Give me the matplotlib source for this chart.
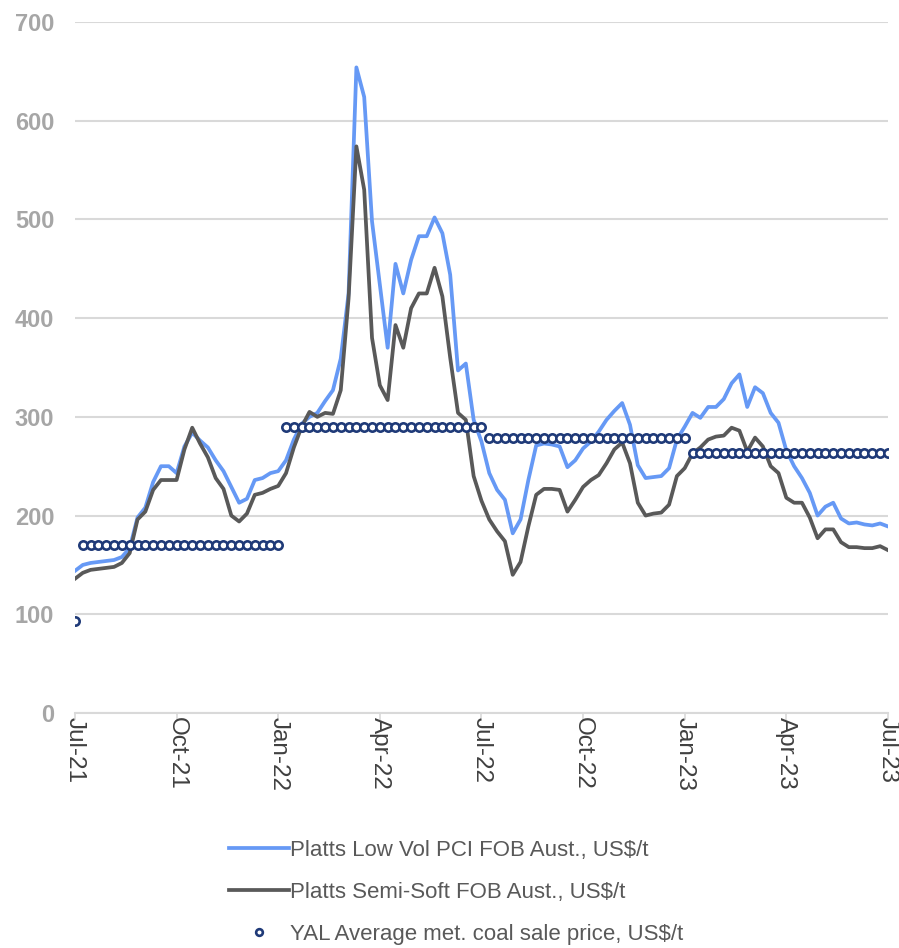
import matplotlib.pyplot as plt
import numpy as np

plt.rcParams['font.family'] = ['Liberation Sans', 'DejaVu Sans']

# weekly samples, Jul-21 .. Jul-23
low_vol_pci = [144, 150, 152, 153, 154, 155, 158, 167, 198, 208,
               234, 250, 250, 243, 270, 284, 276, 269, 256, 245,
               229, 213, 217, 236, 238, 243, 245, 256, 277, 293,
               300, 304, 316, 327, 359, 425, 654, 624, 498, 434,
               370, 455, 425, 459, 483, 483, 502, 486, 444, 347,
               354, 297, 275, 243, 226, 216, 182, 196, 236, 271,
               273, 272, 270, 249, 256, 268, 275, 285, 297, 306,
               314, 292, 251, 238, 239, 240, 248, 277, 290, 304,
               299, 310, 310, 318, 334, 343, 310, 330, 324, 304,
               294, 266, 250, 238, 223, 200, 209, 213, 197, 192,
               193, 191, 190, 192, 189]

semi_soft = [136, 142, 145, 146, 147, 148, 152, 162, 196, 204,
             226, 236, 236, 236, 267, 289, 273, 259, 238, 227,
             200, 194, 202, 221, 223, 227, 230, 243, 269, 290,
             305, 300, 304, 303, 327, 420, 574, 530, 380, 332,
             317, 393, 370, 410, 425, 425, 451, 422, 360, 304,
             297, 240, 215, 196, 184, 174, 140, 153, 189, 221,
             227, 227, 226, 204, 216, 229, 236, 241, 253, 267,
             274, 253, 213, 200, 202, 203, 211, 240, 248, 263,
             269, 277, 280, 281, 289, 286, 265, 279, 270, 250,
             243, 218, 213, 213, 198, 177, 186, 186, 173, 168,
             168, 167, 167, 169, 165]

# YAL quarterly average, repeated each week of the quarter
yal_quarters = [170, 290, 279, 263]
yal_first = 93
yal_avg = [yal_first] + [q for q in yal_quarters for _ in range(26)]

tick_labels = ['Jul-21', 'Oct-21', 'Jan-22', 'Apr-22', 'Jul-22',
               'Oct-22', 'Jan-23', 'Apr-23', 'Jul-23']

weeks = np.arange(len(low_vol_pci))

fig = plt.figure(figsize=(8.99, 9.48), dpi=100)
ax = fig.add_axes([0.0834, 0.2479, 0.9043, 0.7289])

ax.plot(weeks, low_vol_pci, color='#6699F5', linewidth=2.7,
        label='Platts Low Vol PCI FOB Aust., US$/t', zorder=3)
ax.plot(weeks, semi_soft, color='#595959', linewidth=2.7,
        label='Platts Semi-Soft FOB Aust., US$/t', zorder=3)
ax.plot(weeks, yal_avg, linestyle='none', marker='o', markersize=6,
        markerfacecolor='white', markeredgecolor='#1F3A78', markeredgewidth=1.9,
        label='YAL Average met. coal sale price, US$/t', zorder=4)

ax.set_xlim(0, 104)
ax.set_ylim(0, 700)
ax.set_yticks(range(0, 701, 100))
ax.set_xticks(range(0, 105, 13))
ax.set_xticklabels(tick_labels, rotation=270, fontsize=17.5, color='#404040')
for lbl in ax.get_yticklabels():
    lbl.set_fontweight('bold')
ax.tick_params(axis='y', length=0, pad=15, labelsize=17, labelcolor='#A6A6A6')
ax.tick_params(axis='x', length=5, width=1.2, color='#D9D9D9', pad=-2)

ax.grid(axis='y', color='#D9D9D9', linewidth=1.5)
ax.set_axisbelow(True)
for side in ['top', 'right', 'left']:
    ax.spines[side].set_visible(False)
ax.spines['bottom'].set_color('#D9D9D9')
ax.spines['bottom'].set_linewidth(1.5)

leg = fig.legend(loc='upper center', bbox_to_anchor=(0.507, 0.135), frameon=False,
                 fontsize=16, handlelength=2.7, handletextpad=0.05,
                 labelspacing=0.94, markerscale=0.8)
for t in leg.get_texts():
    t.set_color('#595959')

plt.savefig('out.png', dpi=100)
plt.close()
